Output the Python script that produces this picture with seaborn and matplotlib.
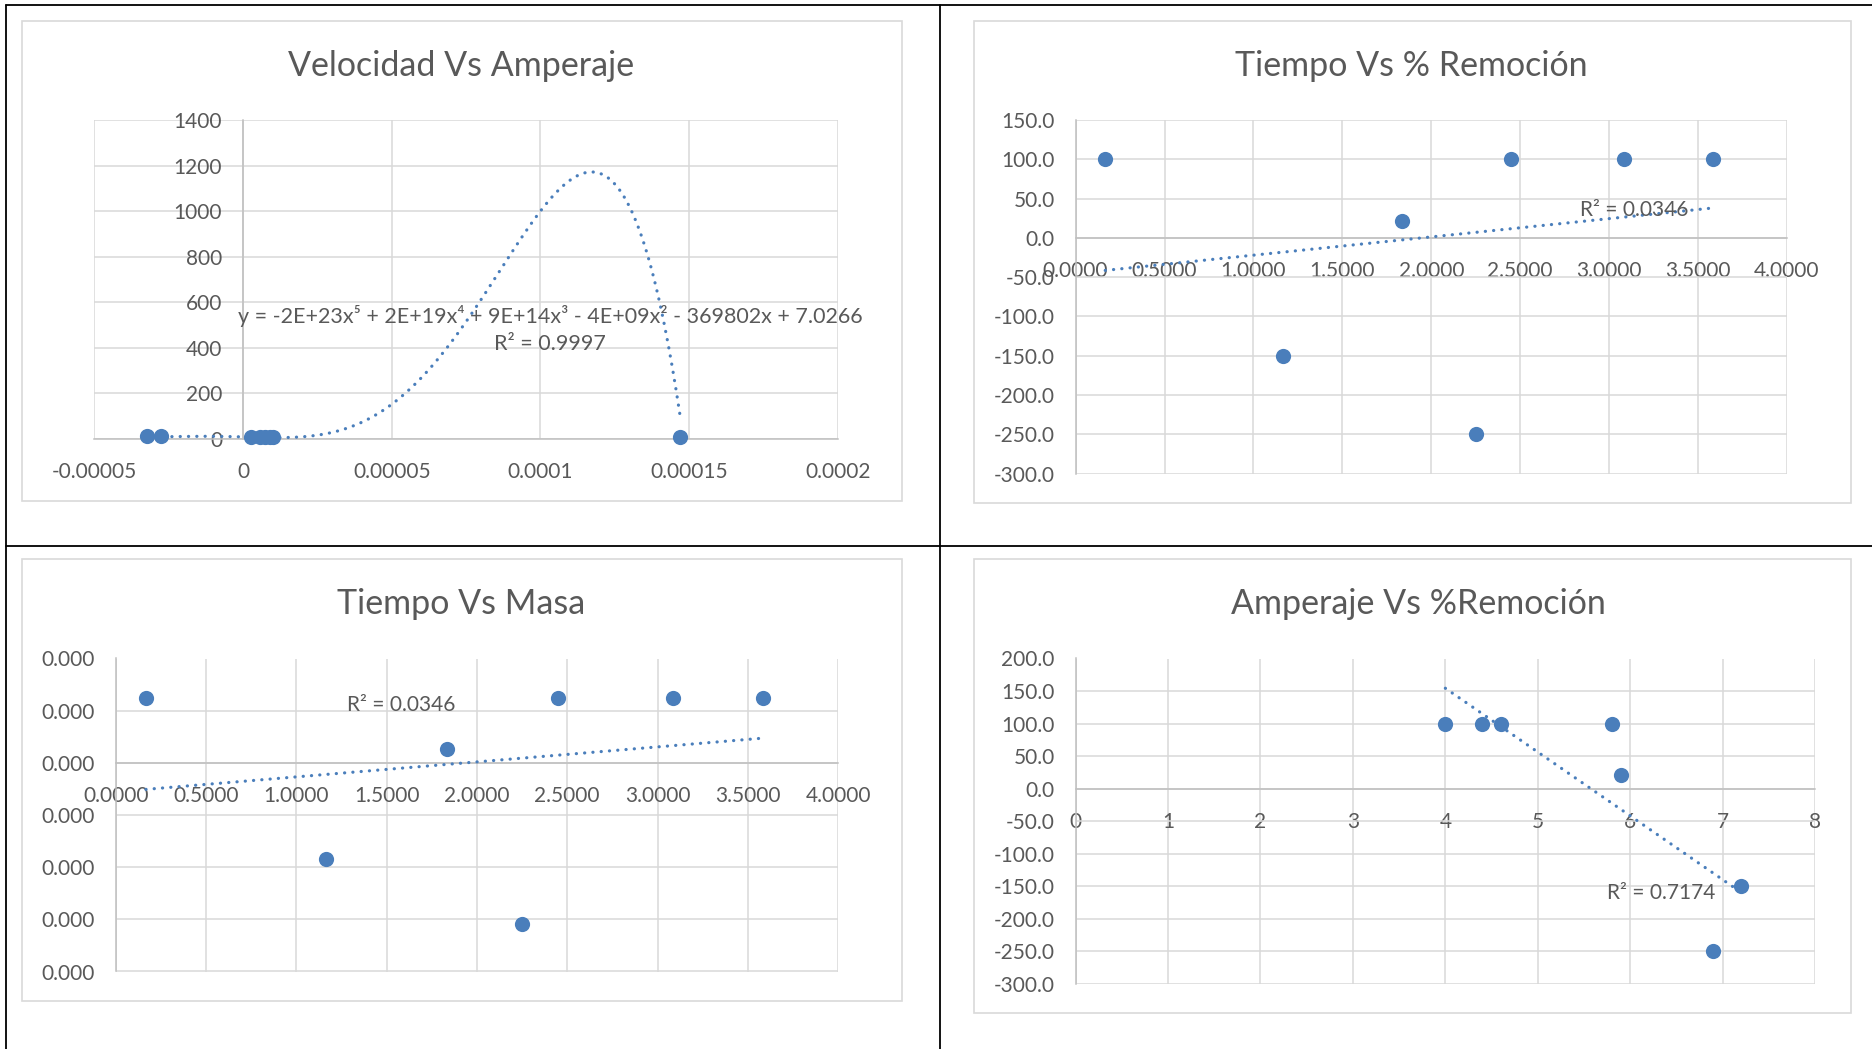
import numpy as np
import pandas as pd
import seaborn as sns
import matplotlib
matplotlib.use("Agg")
import matplotlib.pyplot as plt
from matplotlib.patches import Rectangle
from matplotlib.lines import Line2D

# ---------------- data ----------------
# Chart 1: Velocidad Vs Amperaje
vel_x = [-0.0000323, -0.0000275, 0.0000026, 0.0000058, 0.0000074, 0.0000090, 0.0000102, 0.000147]
vel_y = [9, 9, 7, 7, 7, 7, 7, 7]
vel_trend_coefs = [-1.559e23, 1.729e19, 9.0e14, -4.0e9, -369802.0, 7.0266]  # 5th order trendline
vel_xticks = [-0.00005, 0, 0.00005, 0.0001, 0.00015, 0.0002]
vel_xlabels = ["-0.00005", "0", "0.00005", "0.0001", "0.00015", "0.0002"]
vel_yticks = [0, 200, 400, 600, 800, 1000, 1200, 1400]
vel_ylabels = ["0", "200", "400", "600", "800", "1000", "1200", "1400"]
vel_eq = "y = -2E+23x⁵ + 2E+19x⁴ + 9E+14x³ - 4E+09x² - 369802x + 7.0266"
vel_r2 = "R² = 0.9997"

# Chart 2 / 3: Tiempo
tiempo = [0.1667, 1.1667, 1.8333, 2.2500, 2.4500, 3.0833, 3.5833]
remocion = [100, -150, 21, -250, 100, 100, 100]
masa = [0.000124, -0.000185, 0.000026, -0.000309, 0.000124, 0.000124, 0.000124]
t_xticks = [0, 0.5, 1, 1.5, 2, 2.5, 3, 3.5, 4]
t_xlabels = ["0.0000", "0.5000", "1.0000", "1.5000", "2.0000", "2.5000", "3.0000", "3.5000", "4.0000"]
rem_yticks = [-300, -250, -200, -150, -100, -50, 0, 50, 100, 150]
rem_ylabels = ["-300.0", "-250.0", "-200.0", "-150.0", "-100.0", "-50.0", "0.0", "50.0", "100.0", "150.0"]
masa_yticks = [-0.0004, -0.0003, -0.0002, -0.0001, 0, 0.0001, 0.0002]
masa_ylabels = ["0.000"] * 7
r2_rem = "R² = 0.0346"
r2_masa = "R² = 0.0346"

# Chart 4: Amperaje Vs %Remocion
amperaje = [4.0, 7.2, 5.9, 6.9, 4.4, 4.6, 5.8]
a_xticks = [0, 1, 2, 3, 4, 5, 6, 7, 8]
a_xlabels = ["0", "1", "2", "3", "4", "5", "6", "7", "8"]
a_yticks = [-300, -250, -200, -150, -100, -50, 0, 50, 100, 150, 200]
a_ylabels = ["-300.0", "-250.0", "-200.0", "-150.0", "-100.0", "-50.0", "0.0", "50.0", "100.0", "150.0", "200.0"]
r2_amp = "R² = 0.7174"

titles = ["Velocidad Vs Amperaje", "Tiempo Vs % Remoción", "Tiempo Vs Masa", "Amperaje Vs %Remoción"]

# ---------------- style ----------------
sns.set_theme(style="white")
FONTS = ["Lato", "DejaVu Sans"]
plt.rcParams["font.family"] = FONTS

BLUE = "#4A7EBB"
GRID = "#D9D9D9"
AXIS = "#BFBFBF"
TEXT = "#595959"
TICK_FS = 15
TITLE_FS = 24.5
MARK_S = 120

W, H = 1872, 1049
fig = plt.figure(figsize=(W / 100, H / 100), dpi=100)
fig.patch.set_facecolor("white")


def make_ax(l, r, t, b):
    return fig.add_axes([l / W, 1 - b / H, (r - l) / W, (b - t) / H])


def style(ax, xlim, ylim, xt, xl, yt, yl):
    ax.set_facecolor("none")
    ax.set_xlim(xlim)
    ax.set_ylim(ylim)
    ax.set_xticks(xt)
    ax.set_xticklabels(xl)
    ax.set_yticks(yt)
    ax.set_yticklabels(yl)
    for s in ["top", "right"]:
        ax.spines[s].set_visible(False)
    ax.spines["bottom"].set_position(("data", 0))
    ax.spines["left"].set_position(("data", 0))
    for s in ["bottom", "left"]:
        ax.spines[s].set_color(AXIS)
        ax.spines[s].set_linewidth(1.1)
        ax.spines[s].set_zorder(1.5)
    ax.grid(True, color=GRID, linewidth=1.1)
    ax.set_axisbelow(True)
    ax.tick_params(axis="both", length=0, labelsize=TICK_FS, labelcolor=TEXT)
    ax.tick_params(axis="y", pad=15)
    ax.tick_params(axis="x", pad=17)
    ax.set_xlabel("")
    ax.set_ylabel("")


def dotted(ax, xs, ys):
    sns.lineplot(x=xs, y=ys, ax=ax, color=BLUE, linewidth=2.3, sort=False,
                 estimator=None, zorder=2.5)
    ln = ax.lines[-1]
    ln.set_linestyle((0, (0.05, 2.55)))
    ln.set_dash_capstyle("round")
    ln.set_clip_on(False)


def points(ax, xs, ys):
    sns.scatterplot(x=xs, y=ys, ax=ax, color=BLUE, s=MARK_S, linewidth=0,
                    zorder=3, clip_on=False)


# chart frames and separators
for (l, t, r, b) in [(21.5, 21, 901.5, 501), (973.9, 21, 1850.8, 502.6),
                     (21.5, 559, 901.5, 1000.7), (973.9, 559, 1850.8, 1013.3)]:
    fig.patches.append(Rectangle((l / W, 1 - b / H), (r - l) / W, (b - t) / H,
                                 transform=fig.transFigure, fill=False,
                                 edgecolor=GRID, linewidth=1.2))
for (x0, y0, x1, y1) in [(6, 5, W, 5), (6, 5, 6, H), (940, 5, 940, H), (6, 545.5, W, 545.5)]:
    fig.lines.append(Line2D([x0 / W, x1 / W], [1 - y0 / H, 1 - y1 / H],
                            transform=fig.transFigure, color="black", linewidth=1.3))

# ---------- Chart 1 ----------
ax1 = make_ax(94.3, 837.8, 120.2, 438.5)
style(ax1, (-0.00005, 0.0002), (0, 1400), vel_xticks, vel_xlabels, vel_yticks, vel_ylabels)
xs1 = np.linspace(min(vel_x), max(vel_x), 400)
dotted(ax1, xs1, np.polyval(vel_trend_coefs, xs1))
points(ax1, vel_x, vel_y)
ax1.text(0.0001033, 540, vel_eq, ha="center", va="center", fontsize=15.5, color=TEXT, family=FONTS)
ax1.text(0.0001033, 414, vel_r2, ha="center", va="center", fontsize=15.5, color=TEXT, family=FONTS)

# ---------- Chart 2 ----------
ax2 = make_ax(1075.6, 1787, 120, 473.6)
style(ax2, (0, 4), (-300, 150), t_xticks, t_xlabels, rem_yticks, rem_ylabels)
p2 = np.polyfit(tiempo, remocion, 1)
xs2 = np.array([min(tiempo), max(tiempo)])
dotted(ax2, xs2, np.polyval(p2, xs2))
points(ax2, tiempo, remocion)
ax2.text(3.14, 36, r2_rem, ha="center", va="center", fontsize=TICK_FS, color=TEXT, family=FONTS)

# ---------- Chart 3 ----------
ax3 = make_ax(115.8, 838.1, 658.5, 971.5)
style(ax3, (0, 4), (-0.0004, 0.0002), t_xticks, t_xlabels, masa_yticks, masa_ylabels)
p3 = np.polyfit(tiempo, masa, 1)
dotted(ax3, xs2, np.polyval(p3, xs2))
points(ax3, tiempo, masa)
ax3.text(1.58, 0.000110, r2_masa, ha="center", va="center", fontsize=TICK_FS, color=TEXT, family=FONTS)

# ---------- Chart 4 ----------
ax4 = make_ax(1075.6, 1815.1, 658.5, 983.8)
style(ax4, (0, 8), (-300, 200), a_xticks, a_xlabels, a_yticks, a_ylabels)
p4 = np.polyfit(amperaje, remocion, 1)
xs4 = np.array([min(amperaje), max(amperaje)])
dotted(ax4, xs4, np.polyval(p4, xs4))
points(ax4, amperaje, remocion)
ax4.text(6.34, -160, r2_amp, ha="center", va="center", fontsize=TICK_FS, color=TEXT, family=FONTS)

# titles
for (cx, cy), t in zip([(461, 66), (1411, 66), (461, 604), (1418, 604)], titles):
    fig.text(cx / W, 1 - cy / H, t, ha="center", va="center", fontsize=TITLE_FS, color=TEXT, family=FONTS)

fig.savefig("out.png", dpi=100, facecolor="white")
